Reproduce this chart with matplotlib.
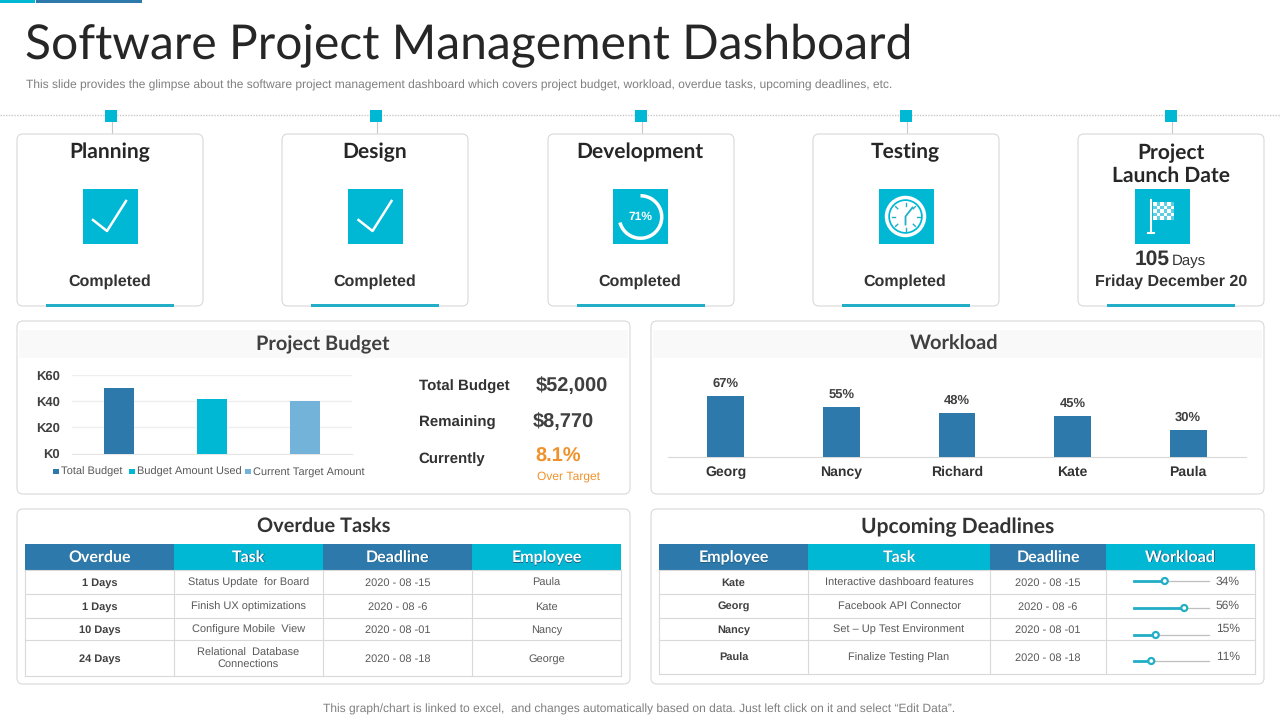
import matplotlib
matplotlib.use("Agg")
import matplotlib.pyplot as plt
from matplotlib.patches import Rectangle, FancyBboxPatch, Circle, Wedge
from matplotlib.lines import Line2D
import numpy as np

plt.rcParams["text.hinting"] = "no_hinting"
plt.rcParams["text.hinting_factor"] = 1

TEAL = "#00b8d4"
BLUE = "#2e79ab"
LIGHT = "#74b3d9"
DARK = "#333333"
GREY = "#7f7f7f"
EDGE = "#d9d9d9"
HEAD = "Lato"
BODY = "Liberation Sans"

# data
stage_names = ["Planning", "Design", "Development", "Testing", "Project\nLaunch Date"]
stage_status = ["Completed", "Completed", "Completed", "Completed", "Friday December 20"]

budget_names = ["Total Budget", "Budget Amount Used", "Current Target Amount"]
budget_values = [50, 42, 40]
budget_ticks = [0, 20, 40, 60]
budget_ticklabels = ["K0", "K20", "K40", "K60"]

workload_names = ["Georg", "Nancy", "Richard", "Kate", "Paula"]
workload_values = [67, 55, 48, 45, 30]

overdue_header = ["Overdue", "Task", "Deadline", "Employee"]
overdue_days = ["1 Days", "1 Days", "10 Days", "24 Days"]
overdue_tasks = ["Status Update  for Board", "Finish UX optimizations", "Configure Mobile  View", "Relational  Database\nConnections"]
overdue_dates = ["2020 - 08 -15", "2020 - 08 -6", "2020 - 08 -01", "2020 - 08 -18"]
overdue_people = ["Paula", "Kate", "Nancy", "George"]

upcoming_header = ["Employee", "Task", "Deadline", "Workload"]
upcoming_people = ["Kate", "Georg", "Nancy", "Paula"]
upcoming_tasks = ["Interactive dashboard features", "Facebook API Connector", "Set \u2013 Up Test Environment", "Finalize Testing Plan"]
upcoming_dates = ["2020 - 08 -15", "2020 - 08 -6", "2020 - 08 -01", "2020 - 08 -18"]
upcoming_labels = ["34%", "56%", "15%", "11%"]
upcoming_slider = [0.41, 0.67, 0.29, 0.23]

W, H = 1280, 720
fig = plt.figure(figsize=(12.8, 7.2), dpi=100, facecolor="white")
ax = fig.add_axes([0, 0, 1, 1])
ax.set_xlim(0, W)
ax.set_ylim(H, 0)
ax.axis("off")


def txt(x, y, s, size, color=DARK, weight="normal", family=BODY, ha="center", **kw):
    return ax.text(x, y + 1, s, fontsize=size, color=color, fontweight=weight, family=family,
                   ha=ha, va="center", **kw)


def rect(x0, y0, x1, y1, color, z=2):
    ax.add_patch(Rectangle((x0, y0), x1 - x0, y1 - y0, facecolor=color, edgecolor="none", zorder=z))


def card(x0, y0, x1, y1):
    ax.add_patch(FancyBboxPatch((x0 + 6, y0 + 6), x1 - x0 - 12, y1 - y0 - 12, boxstyle="round,pad=6,rounding_size=6",
                                facecolor="white", edgecolor=EDGE, linewidth=0.8, zorder=1))


def inset(x0, y0, x1, y1):
    a = fig.add_axes([x0 / W, 1 - y1 / H, (x1 - x0) / W, (y1 - y0) / H])
    a.patch.set_alpha(0)
    return a


# header
rect(0, 0, 35, 3, TEAL)
rect(36, 0, 142, 3, BLUE)
txt(25, 45, "Software Project Management Dashboard", 34.3, color="#262626", family=HEAD, ha="left")
txt(26, 84, "This slide provides the glimpse about the software project management dashboard which covers project budget, workload, overdue tasks, upcoming deadlines, etc.",
    8.65, color=GREY, ha="left")
ax.add_line(Line2D([0, W], [115, 115], color="#c8c8c8", linewidth=1, linestyle=(0, (1, 1)), zorder=1))

# stage cards
card_left = [17, 282, 548, 813, 1078]
stage_x = [110, 375, 640, 905, 1170]
icon_x = [110, 375.5, 640.5, 906.5, 1162.5]
for i, name in enumerate(stage_names):
    x0 = card_left[i]
    cx = stage_x[i]
    ax.add_line(Line2D([cx + 1.5, cx + 1.5], [120, 134], color="#c8c8c8", linewidth=0.8, zorder=1))
    rect(cx - 5, 109.5, cx + 7, 122, TEAL)
    card(x0, 134, x0 + 186, 306)
    rect(x0 + 29, 303.5, x0 + 157, 307, "#22aec6", z=3)
    rect(icon_x[i] - 27.5, 189, icon_x[i] + 27.5, 244, TEAL)
    if i < 4:
        txt(cx, 151, name, 15, color="#262626", family=HEAD, weight="bold")
        txt(cx, 280.5, stage_status[i], 11.8, weight="bold")
    else:
        txt(cx + 1, 163.5, name, 15, color="#262626", family=HEAD, weight="bold", linespacing=1.15)
        txt(cx + 1, 280.5, stage_status[i], 11.6, weight="bold")
        txt(cx - 18, 258, "105", 15, weight="bold")
        txt(cx + 19, 260, "Days", 11)

# icons
for cx in icon_x[:2]:
    ax.add_line(Line2D([cx - 17, cx - 3, cx + 16], [220, 231, 201], color="white", linewidth=1.8, zorder=4))

ax.add_patch(Wedge((640.5, 217), 23, -90, 165, width=3.5, facecolor="white", edgecolor="none", zorder=4))
txt(640, 216, "71%", 8.5, color="white", weight="bold", zorder=5)

clock_x, clock_y = 905.5, 216.5
ax.add_patch(Circle((clock_x, clock_y), 19, facecolor="none", edgecolor="white", linewidth=2.5, zorder=4))
ax.add_patch(Circle((clock_x, clock_y), 15.5, facecolor="white", edgecolor="none", zorder=4))
for ang in np.arange(0, 360, 45):
    dx, dy = np.cos(np.radians(ang)), np.sin(np.radians(ang))
    ax.add_line(Line2D([clock_x + 11 * dx, clock_x + 14 * dx], [clock_y + 11 * dy, clock_y + 14 * dy],
                       color="#22aec6", linewidth=1, zorder=5))
ax.add_line(Line2D([clock_x, clock_x, clock_x, clock_x + 7], [clock_y + 8, clock_y, clock_y, clock_y - 9],
                   color="#22aec6", linewidth=1.3, zorder=5))

flag_x = 1151
ax.add_line(Line2D([flag_x, flag_x], [200, 233], color="white", linewidth=1.5, zorder=4))
ax.add_line(Line2D([flag_x - 3, flag_x + 3], [233, 233], color="white", linewidth=1.5, zorder=4))
rect(flag_x + 2, 202, flag_x + 23, 220, "white", z=4)
for r in range(5):
    for c in range(6):
        if (r + c) % 2:
            rect(flag_x + 2 + c * 3.5, 202 + r * 3.6, flag_x + 5.5 + c * 3.5, 205.6 + r * 3.6, "#5ccfe2", z=5)

# project budget
card(17, 321, 630, 494)
rect(19, 330, 628, 358, "#f9f9f9")
txt(323, 344, "Project Budget", 14.5, color="#404040", family=HEAD, weight="bold")

ab = inset(72, 375, 352, 453.5)
ab.bar(range(3), budget_values, width=0.32, color=[BLUE, TEAL, LIGHT], zorder=3)
ab.set_xlim(-0.5, 2.5)
ab.set_ylim(0, 60)
ab.set_yticks(budget_ticks)
ab.set_yticklabels(budget_ticklabels, fontsize=9.2, fontweight="bold", family=BODY, color="#404040")
ab.set_xticks([])
ab.tick_params(axis="y", length=0, pad=8.5)
ab.grid(axis="y", color="#efefef", linewidth=1, zorder=0)
for s in ab.spines.values():
    s.set_visible(False)
ab.spines["bottom"].set_visible(True)
ab.spines["bottom"].set_color("#e6e6e6")

legend_x = [53, 129, 245]
for x, name, c in zip(legend_x, budget_names, [BLUE, TEAL, LIGHT]):
    rect(x, 468.5, x + 5.5, 474, c)
    txt(x + 8, 470.5, name, 7.6, color="#595959", ha="left")

txt(419, 386, "Total Budget", 10.9, weight="bold", ha="left")
txt(419, 422, "Remaining", 10.9, weight="bold", ha="left")
txt(418, 458, "Currently", 10.9, weight="bold", ha="left")
txt(536, 385, "$52,000", 14.4, weight="bold", color="#404040", ha="left")
txt(533, 421, "$8,770", 14.4, weight="bold", color="#404040", ha="left")
txt(535, 456, "8.1%", 14.2, weight="bold", color="#f0922b", ha="left")
txt(537, 475, "Over Target", 8.8, color="#f0922b", ha="left")

# workload
card(651, 321, 1264, 494)
rect(653, 330, 1262, 358, "#f9f9f9")
txt(954.5, 343.5, "Workload", 14.5, color="#404040", family=HEAD, weight="bold")

aw = inset(668, 360, 1246, 456.5)
bars = aw.bar(range(5), workload_values, width=0.32, color=BLUE, zorder=3)
aw.set_xlim(-0.5, 4.5)
aw.set_ylim(0, 96.5 / 0.9)
aw.set_yticks([])
aw.set_xticks(range(5))
aw.set_xticklabels(workload_names, fontsize=10, fontweight="bold", family=BODY, color="#333333")
aw.tick_params(axis="x", length=0, pad=6.5)
for s in aw.spines.values():
    s.set_visible(False)
aw.spines["bottom"].set_visible(True)
aw.spines["bottom"].set_color("#d9d9d9")
for b, v in zip(bars, workload_values):
    aw.annotate(f"{v}%", (b.get_x() + b.get_width() / 2, v), xytext=(0, 4.5), textcoords="offset points",
                ha="center", va="bottom", fontsize=9, fontweight="bold", family=BODY, color="#404040")


# tables
def table(col_x, row_y, header, columns):
    for j, name in enumerate(header):
        rect(col_x[j], row_y[0], col_x[j + 1], row_y[1], BLUE if j % 2 == 0 else TEAL)
        mid = (col_x[j] + col_x[j + 1]) / 2
        head_y = (row_y[0] + row_y[1]) / 2
        txt(mid + 0.5, head_y + 0.5, name, 11.8, color="#1f5f85", family=HEAD, weight="bold", zorder=3)
        txt(mid, head_y, name, 11.8, color="white", family=HEAD, weight="bold", zorder=4)
    for y in row_y[1:]:
        ax.add_line(Line2D([col_x[0], col_x[-1]], [y, y], color=EDGE, linewidth=0.8, zorder=2))
    for x in col_x:
        ax.add_line(Line2D([x, x], [row_y[1], row_y[-1]], color=EDGE, linewidth=0.8, zorder=2))
    for j, col in enumerate(columns):
        mid = (col_x[j] + col_x[j + 1]) / 2
        for r, s in enumerate(col):
            y = (row_y[r + 1] + row_y[r + 2]) / 2
            if j == 0:
                txt(mid, y, s, 8, color="#404040", weight="bold", zorder=3)
            else:
                txt(mid, y, s, 7.7, color="#595959", zorder=3, linespacing=1.3)


card(17, 509, 630, 684)
txt(323.5, 526, "Overdue Tasks", 14.5, color="#333333", family=HEAD, weight="bold")
table([25, 174, 323, 472, 621], [544, 570, 594, 618, 640, 676], overdue_header,
      [overdue_days, overdue_tasks, overdue_dates, overdue_people])

card(651, 509, 1264, 684)
txt(957.5, 526, "Upcoming Deadlines", 14.8, color="#333333", family=HEAD, weight="bold")
table([659, 808, 990, 1106, 1255], [544, 570, 594, 618, 640, 674], upcoming_header,
      [upcoming_people, upcoming_tasks, upcoming_dates])

slider_y = [581, 608, 635, 661]
label_y = [581, 605, 628, 656]
for pos, s, y, ly in zip(upcoming_slider, upcoming_labels, slider_y, label_y):
    hx = 1134 + 75 * pos
    ax.add_line(Line2D([1134, 1209], [y, y], color="#bfbfbf", linewidth=0.9, zorder=3))
    ax.add_line(Line2D([1134, hx], [y, y], color="#22aec6", linewidth=2, zorder=4))
    ax.add_patch(Circle((hx, y), 3, facecolor="white", edgecolor="#22aec6", linewidth=1.6, zorder=5))
    txt(1228, ly, s, 8.3, color="#595959", zorder=3)

txt(639, 708.5, "This graph/chart is linked to excel,  and changes automatically based on data. Just left click on it and select \u201cEdit Data\u201d.",
    8.6, color=GREY)

fig.savefig("out.png", dpi=100)
